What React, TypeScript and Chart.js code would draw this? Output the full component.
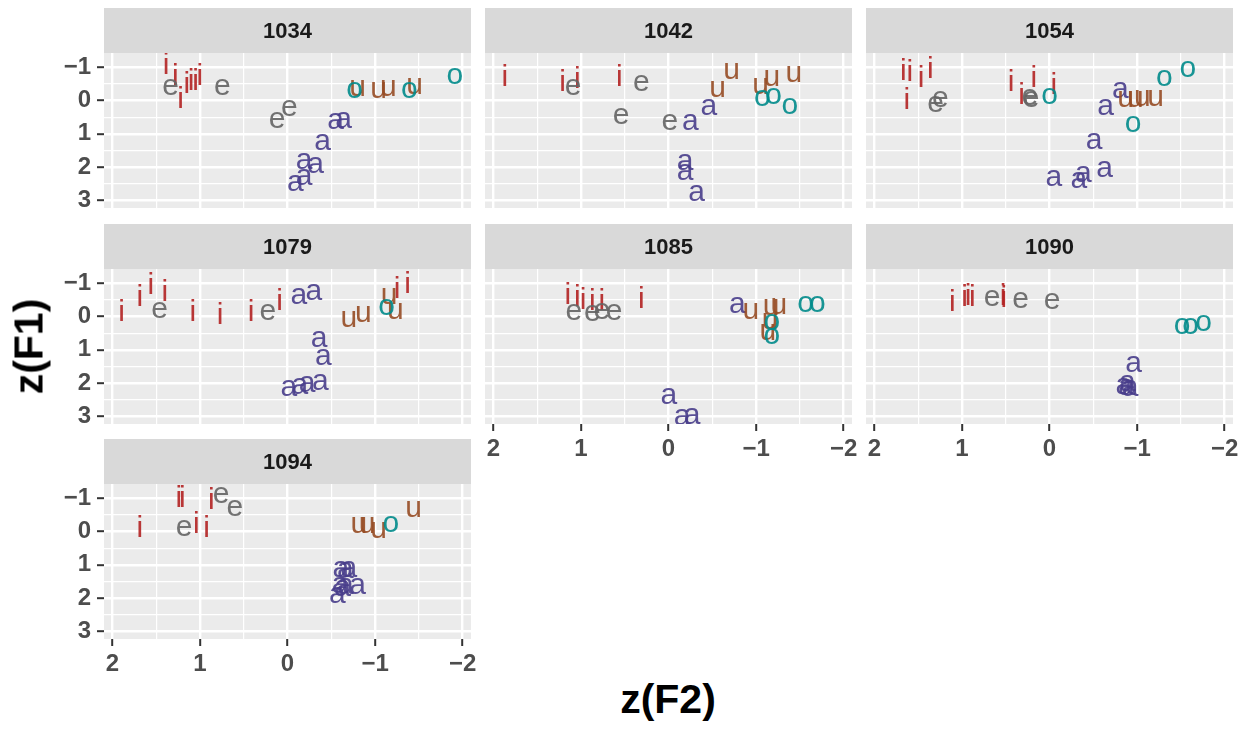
import React, { useEffect, useRef } from 'react';
import { Chart, registerables } from 'chart.js';

Chart.register(...registerables);

type Pt = [number, number];

// ---------- categories / ticks ----------
const SPEAKERS = ['1034', '1042', '1054', '1079', '1085', '1090', '1094'];
const VOWELS = ['i', 'e', 'a', 'u', 'o'];
const VOWEL_COLORS = [
  'rgba(178,34,34,0.9)',
  'rgba(100,100,100,0.9)',
  'rgba(72,61,139,0.9)',
  'rgba(150,75,35,0.9)',
  'rgba(0,139,139,0.9)',
];
const X_TICK_VALUES = [2, 1, 0, -1, -2];
const X_TICK_LABELS = ['2', '1', '0', '\u22121', '\u22122'];
const X_MINOR_VALUES = [1.5, 0.5, -0.5, -1.5];
const Y_TICK_VALUES = [-1, 0, 1, 2, 3];
const Y_TICK_LABELS = ['\u22121', '0', '1', '2', '3'];
const Y_MINOR_VALUES = [-0.5, 0.5, 1.5, 2.5];
const X_LIMITS = [-2.095, 2.095];
const Y_LIMITS = [-1.435, 3.24];
const X_TITLE = 'z(F2)';
const Y_TITLE = 'z(F1)';

// ---------- series values: [z(F2), z(F1)] ----------
const S1034_I: Pt[] = [[1.385, -1.12], [1.28, -0.79], [1.22, -0.09], [1.15, -0.54], [1.1, -0.63], [1.05, -0.63], [1.0, -0.79]];
const S1034_E: Pt[] = [[1.335, -0.5], [0.745, -0.5], [0.12, 0.49], [-0.02, 0.14]];
const S1034_A: Pt[] = [[-0.55, 0.54], [-0.64, 0.49], [-0.4, 1.18], [-0.19, 1.75], [-0.32, 1.87], [-0.19, 2.21], [-0.09, 2.41]];
const S1034_U: Pt[] = [[-0.8, -0.46], [-1.04, -0.41], [-1.15, -0.47], [-1.45, -0.53]];
const S1034_O: Pt[] = [[-0.765, -0.41], [-1.39, -0.41], [-1.91, -0.81]];

const S1042_I: Pt[] = [[1.87, -0.76], [1.21, -0.6], [1.04, -0.69], [0.56, -0.76]];
const S1042_E: Pt[] = [[1.09, -0.49], [0.31, -0.61], [0.54, 0.37], [-0.015, 0.57]];
const S1042_A: Pt[] = [[-0.25, 0.57], [-0.46, 0.12], [-0.19, 1.77], [-0.19, 2.06], [-0.32, 2.71]];
const S1042_U: Pt[] = [[-0.56, -0.43], [-0.72, -0.97], [-1.05, -0.53], [-1.18, -0.77], [-1.43, -0.87]];
const S1042_O: Pt[] = [[-1.07, -0.16], [-1.2, -0.21], [-1.385, 0.07]];

const S1054_I: Pt[] = [[1.67, -0.94], [1.595, -0.92], [1.465, -0.72], [1.36, -0.99], [1.63, -0.08], [0.44, -0.61], [0.32, -0.21], [0.18, -0.73], [-0.05, -0.53]];
const S1054_E: Pt[] = [[1.3, 0.01], [1.245, -0.13], [0.225, -0.19], [0.21, -0.13]];
const S1054_A: Pt[] = [[-0.64, 0.11], [-0.81, -0.39], [-0.51, 1.15], [-0.05, 2.26], [-0.335, 2.31], [-0.385, 2.13], [-0.63, 1.98]];
const S1054_U: Pt[] = [[-0.87, -0.13], [-0.98, -0.13], [-1.06, -0.16], [-1.21, -0.16]];
const S1054_O: Pt[] = [[0.0, -0.23], [-1.31, -0.77], [-1.58, -1.02], [-0.955, 0.61]];

const S1079_I: Pt[] = [[1.895, -0.18], [1.685, -0.63], [1.56, -0.99], [1.4, -0.79], [1.08, -0.2], [0.77, -0.11], [0.415, -0.2], [0.09, -0.53], [-1.25, -0.89], [-1.37, -1.04]];
const S1079_E: Pt[] = [[1.46, -0.29], [0.225, -0.21]];
const S1079_A: Pt[] = [[-0.13, -0.71], [-0.3, -0.81], [-0.36, 0.59], [-0.41, 1.15], [-0.015, 2.06], [-0.14, 2.0], [-0.225, 1.95], [-0.375, 1.9]];
const S1079_U: Pt[] = [[-0.7, -0.01], [-0.865, -0.16], [-1.16, -0.71], [-1.23, -0.26]];
const S1079_O: Pt[] = [[-1.13, -0.36]];

const S1085_I: Pt[] = [[1.15, -0.69], [1.04, -0.63], [0.975, -0.55], [0.87, -0.51], [0.76, -0.51], [0.31, -0.58]];
const S1085_E: Pt[] = [[1.08, -0.23], [0.87, -0.18], [0.76, -0.26], [0.62, -0.23]];
const S1085_A: Pt[] = [[-0.785, -0.43], [-0.005, 2.31], [-0.155, 2.96], [-0.27, 2.91]];
const S1085_U: Pt[] = [[-0.94, -0.26], [-1.17, -0.36], [-1.26, -0.39], [-1.16, 0.04], [-1.135, 0.39]];
const S1085_O: Pt[] = [[-1.18, 0.07], [-1.18, 0.49], [-1.565, -0.46], [-1.7, -0.46]];

const S1090_I: Pt[] = [[1.11, -0.48], [0.97, -0.63], [0.93, -0.66], [0.88, -0.63], [0.53, -0.66], [0.52, -0.62]];
const S1090_E: Pt[] = [[0.655, -0.63], [0.33, -0.59], [-0.03, -0.56]];
const S1090_A: Pt[] = [[-0.96, 1.35], [-0.88, 2.04], [-0.89, 1.92], [-0.92, 2.07], [-0.85, 2.02]];
const S1090_U: Pt[] = [];
const S1090_O: Pt[] = [[-1.515, 0.21], [-1.61, 0.21], [-1.76, 0.11]];

const S1094_I: Pt[] = [[1.685, -0.17], [1.24, -1.06], [1.2, -1.08], [0.87, -1.01], [1.04, -0.27], [0.925, -0.15]];
const S1094_E: Pt[] = [[0.757, -1.19], [0.6, -0.79], [1.18, -0.18]];
const S1094_A: Pt[] = [[-0.61, 1.04], [-0.66, 1.07], [-0.7, 1.04], [-0.6, 1.54], [-0.66, 1.57], [-0.8, 1.57], [-0.57, 1.84], [-0.63, 1.62]];
const S1094_U: Pt[] = [[-0.815, -0.28], [-0.91, -0.28], [-1.04, -0.13], [-1.44, -0.77]];
const S1094_O: Pt[] = [[-1.18, -0.3]];

const SERIES: Record<string, Pt[][]> = {
  '1034': [S1034_I, S1034_E, S1034_A, S1034_U, S1034_O],
  '1042': [S1042_I, S1042_E, S1042_A, S1042_U, S1042_O],
  '1054': [S1054_I, S1054_E, S1054_A, S1054_U, S1054_O],
  '1079': [S1079_I, S1079_E, S1079_A, S1079_U, S1079_O],
  '1085': [S1085_I, S1085_E, S1085_A, S1085_U, S1085_O],
  '1090': [S1090_I, S1090_E, S1090_A, S1090_U, S1090_O],
  '1094': [S1094_I, S1094_E, S1094_A, S1094_U, S1094_O],
};

// ---------- layout ----------
const FONT = '"Liberation Sans", Arial, Helvetica, sans-serif';
const COL_LEFTS = [104, 485, 866];
const ROW_TOPS = [8, 224, 439];
const PANEL_W = 367;
const PANEL_H = 155;
const STRIP_H = 45;
const Y_AXIS_W = 100;
const X_AXIS_H = 45;
const RIGHT_PAD = 20;
const CW = Y_AXIS_W + PANEL_W + RIGHT_PAD;
const CH = STRIP_H + PANEL_H + X_AXIS_H;
const LETTER_SIZE = 30;
const TICK_SIZE = 24;
const TITLE_SIZE = 41;

const isMajor = (vals: number[], v: number) => vals.some((m) => Math.abs(m - v) < 1e-9);

const decorPlugin = {
  id: 'panelDecor',
  beforeDraw(chart: any, _args: any, opts: any) {
    const { ctx, chartArea: a } = chart;
    ctx.save();
    ctx.fillStyle = '#ebebeb';
    ctx.fillRect(a.left, a.top, a.right - a.left, a.bottom - a.top);
    ctx.fillStyle = '#d9d9d9';
    ctx.fillRect(a.left, a.top - STRIP_H, a.right - a.left, STRIP_H);
    ctx.fillStyle = '#1a1a1a';
    ctx.font = `bold 22px ${FONT}`;
    ctx.textAlign = 'center';
    ctx.textBaseline = 'middle';
    ctx.fillText(opts.text, (a.left + a.right) / 2, a.top - STRIP_H / 2 + 1);
    ctx.restore();
  },
};

const letterPlugin = {
  id: 'letters',
  afterDatasetsDraw(chart: any) {
    const { ctx, chartArea: a } = chart;
    ctx.save();
    ctx.beginPath();
    ctx.rect(a.left, a.top, a.right - a.left, a.bottom - a.top);
    ctx.clip();
    ctx.font = `${LETTER_SIZE}px ${FONT}`;
    ctx.textAlign = 'center';
    ctx.textBaseline = 'alphabetic';
    chart.data.datasets.forEach((ds: any, i: number) => {
      const meta = chart.getDatasetMeta(i);
      ctx.fillStyle = ds.borderColor;
      meta.data.forEach((el: any) => {
        ctx.fillText(ds.label, el.x, el.y + LETTER_SIZE * 0.358);
      });
    });
    ctx.restore();
  },
};

function Panel({ speaker, index, showX, showY }: { speaker: string; index: number; showX: boolean; showY: boolean }) {
  const ref = useRef<HTMLCanvasElement>(null);
  const col = index % 3;
  const row = Math.floor(index / 3);
  useEffect(() => {
    if (!ref.current) return;
    const series = SERIES[speaker];
    const chart = new Chart(ref.current, {
      type: 'scatter',
      data: {
        datasets: VOWELS.map((v, i) => ({
          label: v,
          data: series[i].map(([x, y]) => ({ x, y })),
          borderColor: VOWEL_COLORS[i],
          backgroundColor: VOWEL_COLORS[i],
          pointRadius: 0,
          pointHoverRadius: 0,
        })),
      },
      options: {
        responsive: false,
        animation: false,
        devicePixelRatio: 1,
        events: [],
        layout: { padding: { top: STRIP_H, right: RIGHT_PAD, bottom: 0, left: 0 } },
        plugins: {
          legend: { display: false },
          tooltip: { enabled: false },
          panelDecor: { text: speaker },
        } as any,
        scales: {
          x: {
            type: 'linear',
            reverse: true,
            min: X_LIMITS[0],
            max: X_LIMITS[1],
            afterBuildTicks: (s: any) => {
              s.ticks = [...X_TICK_VALUES, ...X_MINOR_VALUES].sort((p, q) => p - q).map((value) => ({ value }));
            },
            afterFit: (s: any) => {
              s.height = X_AXIS_H;
            },
            border: { display: false },
            grid: {
              color: '#ffffff',
              lineWidth: (c: any) => (c.tick && isMajor(X_TICK_VALUES, c.tick.value) ? 2.4 : 1.2),
              drawTicks: showX,
              tickLength: 7,
              tickWidth: 2,
              tickColor: (c: any) => (c.tick && isMajor(X_TICK_VALUES, c.tick.value) ? '#333333' : 'rgba(0,0,0,0)'),
            },
            ticks: {
              display: showX,
              autoSkip: false,
              maxRotation: 0,
              padding: 4,
              color: '#4d4d4d',
              font: { family: FONT, size: TICK_SIZE, weight: 'bold' },
              callback: (v: any) => {
                const k = X_TICK_VALUES.findIndex((m) => Math.abs(m - v) < 1e-9);
                return k >= 0 ? X_TICK_LABELS[k] : '';
              },
            },
          },
          y: {
            type: 'linear',
            reverse: true,
            min: Y_LIMITS[0],
            max: Y_LIMITS[1],
            afterBuildTicks: (s: any) => {
              s.ticks = [...Y_TICK_VALUES, ...Y_MINOR_VALUES].sort((p, q) => p - q).map((value) => ({ value }));
            },
            afterFit: (s: any) => {
              s.width = Y_AXIS_W;
            },
            border: { display: false },
            grid: {
              color: '#ffffff',
              lineWidth: (c: any) => (c.tick && isMajor(Y_TICK_VALUES, c.tick.value) ? 2.4 : 1.2),
              drawTicks: showY,
              tickLength: 7,
              tickWidth: 2,
              tickColor: (c: any) => (c.tick && isMajor(Y_TICK_VALUES, c.tick.value) ? '#333333' : 'rgba(0,0,0,0)'),
            },
            ticks: {
              display: showY,
              autoSkip: false,
              padding: 6,
              color: '#4d4d4d',
              font: { family: FONT, size: TICK_SIZE, weight: 'bold' },
              callback: (v: any) => {
                const k = Y_TICK_VALUES.findIndex((m) => Math.abs(m - v) < 1e-9);
                return k >= 0 ? Y_TICK_LABELS[k] : '';
              },
            },
          },
        },
      } as any,
      plugins: [decorPlugin, letterPlugin],
    });
    return () => chart.destroy();
  }, [speaker, showX, showY]);
  return (
    <canvas
      ref={ref}
      width={CW}
      height={CH}
      style={{ position: 'absolute', left: COL_LEFTS[col] - Y_AXIS_W, top: ROW_TOPS[row], width: CW, height: CH }}
    />
  );
}

export default function App() {
  const n = SPEAKERS.length;
  return (
    <div style={{ position: 'absolute', left: 0, top: 0, width: 1251, height: 729, overflow: 'hidden', background: '#ffffff' }}>
      {SPEAKERS.map((s, i) => {
        const showY = i % 3 === 0;
        const showX = i + 3 >= n;
        return <Panel key={s} speaker={s} index={i} showX={showX} showY={showY} />;
      })}
      <div
        style={{
          position: 'absolute',
          left: 568,
          top: 679,
          width: 200,
          textAlign: 'center',
          font: `bold ${TITLE_SIZE}px ${FONT}`,
          lineHeight: `${TITLE_SIZE}px`,
          color: '#000000',
          whiteSpace: 'nowrap',
        }}
      >
        {X_TITLE}
      </div>
      <div
        style={{
          position: 'absolute',
          left: -71,
          top: 326,
          width: 200,
          height: TITLE_SIZE,
          textAlign: 'center',
          font: `bold ${TITLE_SIZE}px ${FONT}`,
          lineHeight: `${TITLE_SIZE}px`,
          color: '#000000',
          whiteSpace: 'nowrap',
          transform: 'rotate(-90deg)',
        }}
      >
        {Y_TITLE}
      </div>
    </div>
  );
}
